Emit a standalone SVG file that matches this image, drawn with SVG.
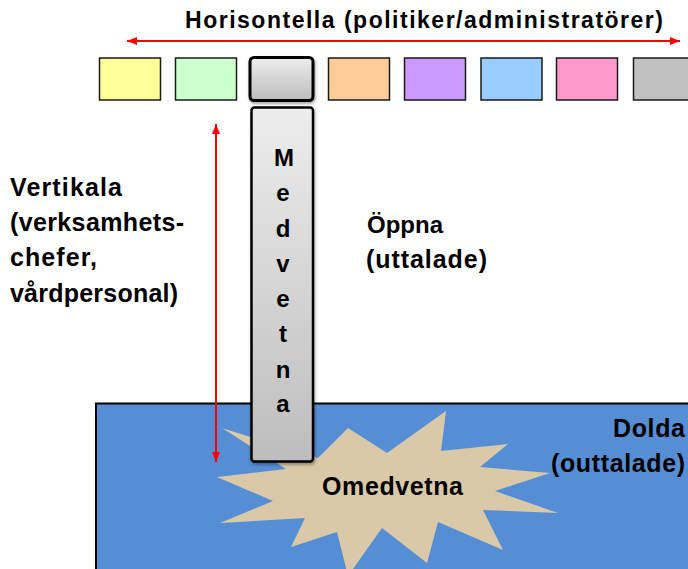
<svg xmlns="http://www.w3.org/2000/svg" width="688" height="569" viewBox="0 0 688 569">
<defs>
<linearGradient id="gr" x1="0" y1="0" x2="0" y2="1">
<stop offset="0" stop-color="#EDEDED"/>
<stop offset="1" stop-color="#BDBDBD"/>
</linearGradient>
<marker id="ah" viewBox="0 0 10 8" refX="10" refY="4" markerWidth="10" markerHeight="8" markerUnits="userSpaceOnUse" orient="auto-start-reverse">
<path d="M0,0 L10,4 L0,8 Z" fill="#FF0000"/>
</marker>
<filter id="sh" x="-20%" y="-20%" width="140%" height="140%">
<feDropShadow dx="1" dy="2" stdDeviation="1.5" flood-color="#000" flood-opacity="0.35"/>
</filter>
</defs>
<style>
.t{font-family:"Liberation Sans",Arial,sans-serif;font-weight:bold;fill:#000;}
.box{stroke:#1a1a1a;stroke-width:1.5;}
.arr{stroke:#FF0000;stroke-width:2;fill:none;}
</style>
<rect width="688" height="569" fill="#FFFFFF"/>
<g id="hidden">
<rect x="96" y="403.5" width="600" height="180" fill="#558ED5" stroke="#000" stroke-width="2"/>
<text class="t" x="685" y="437" font-size="25" text-anchor="end" textLength="72">Dolda</text>
<text class="t" x="685" y="472" font-size="25" text-anchor="end" textLength="134">(outtalade)</text>
</g>
<g id="unconscious">
<polygon fill="#D9C9A9" points="348,428 387,453 446,411 441,451 508,444 480,467 550,473 495,491 558,513 483,510 503,550 438,522 427,563 382,528 348,576 337,532 291,547 305,518 220,523 273,501 217,477 286,469 222,428 318,458"/>
<text class="t" x="322" y="495" font-size="25" textLength="141">Omedvetna</text>
</g>
<g id="boxes">
<rect id="box1" class="box" x="99.5" y="58" width="61" height="42" fill="#FFFF99"/>
<rect id="box2" class="box" x="175.5" y="58" width="61" height="42" fill="#CCFFCC"/>
<rect id="box3" x="250" y="57.5" width="63" height="43" rx="4" fill="url(#gr)" stroke="#000" stroke-width="3" filter="url(#sh)"/>
<rect id="box4" class="box" x="328.5" y="58" width="61" height="42" fill="#FFCC99"/>
<rect id="box5" class="box" x="404.5" y="58" width="61" height="42" fill="#CC99FF"/>
<rect id="box6" class="box" x="481" y="58" width="61" height="42" fill="#99CCFF"/>
<rect id="box7" class="box" x="556.5" y="58" width="61" height="42" fill="#FF99CC"/>
<rect id="box8" class="box" x="633.5" y="58" width="61" height="42" fill="#C0C0C0"/>
</g>
<g id="conscious">
<rect x="251.5" y="107.5" width="61.5" height="354" rx="3" fill="url(#gr)" stroke="#000" stroke-width="2.5" filter="url(#sh)"/>
<g class="t" font-size="24" text-anchor="middle">
<text x="284" y="166">M</text>
<text x="283" y="201">e</text>
<text x="283" y="237">d</text>
<text x="283" y="272">v</text>
<text x="283" y="307">e</text>
<text x="283" y="342">t</text>
<text x="283" y="378">n</text>
<text x="283" y="412">a</text>
</g>
</g>
<g id="labels">
<text class="t" x="185" y="28" font-size="23" textLength="478">Horisontella (politiker/administratörer)</text>
<text class="t" x="10" y="196" font-size="25" textLength="112">Vertikala</text>
<text class="t" x="10" y="231" font-size="25" textLength="174">(verksamhets-</text>
<text class="t" x="10" y="266" font-size="25" textLength="87">chefer,</text>
<text class="t" x="10" y="302" font-size="25" textLength="168">vårdpersonal)</text>
<text class="t" x="367" y="233" font-size="24">Öppna</text>
<text class="t" x="366" y="268" font-size="25" textLength="121">(uttalade)</text>
</g>
<g id="connectors">
<line class="arr" x1="127" y1="41" x2="680" y2="41" marker-start="url(#ah)" marker-end="url(#ah)"/>
<line class="arr" x1="216" y1="124" x2="216" y2="462" marker-start="url(#ah)" marker-end="url(#ah)"/>
</g>
</svg>
